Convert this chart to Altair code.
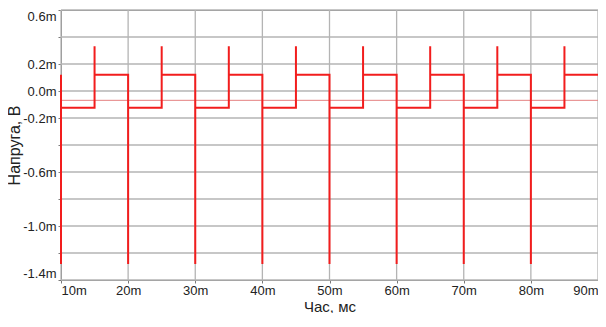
import altair as alt
import pandas as pd

# Time (ms) of each vertex of the trace, and voltage (mV) at that vertex
t_ms = [10, 10, 10,
        15, 15, 15,
        20, 20, 20,
        25, 25, 25,
        30, 30, 30,
        35, 35, 35,
        40, 40, 40,
        45, 45, 45,
        50, 50, 50,
        55, 55, 55,
        60, 60, 60,
        65, 65, 65,
        70, 70, 70,
        75, 75, 75,
        80, 80, 80,
        85, 85, 85,
        90]
v_mv = [0.121, -1.282, -0.124,
        -0.124, 0.331, 0.121,
        0.121, -1.282, -0.124,
        -0.124, 0.331, 0.121,
        0.121, -1.282, -0.124,
        -0.124, 0.331, 0.121,
        0.121, -1.282, -0.124,
        -0.124, 0.331, 0.121,
        0.121, -1.282, -0.124,
        -0.124, 0.331, 0.121,
        0.121, -1.282, -0.124,
        -0.124, 0.331, 0.121,
        0.121, -1.282, -0.124,
        -0.124, 0.331, 0.121,
        0.121, -1.282, -0.124,
        -0.124, 0.331, 0.121,
        0.121]

ref_level = [-0.069]

x_ticks = [10, 20, 30, 40, 50, 60, 70, 80, 90]
y_ticks = [-1.4, -1.2, -1.0, -0.8, -0.6, -0.4, -0.2, 0, 0.2, 0.4, 0.6]
y_label_vals = [0.6, 0.2, 0, -0.2, -0.6, -1.0, -1.4]
y_label_txt = ["0.6m", "0.2m", "0.0m", "-0.2m", "-0.6m", "-1.0m", "-1.4m"]

df = pd.DataFrame({"t": t_ms, "v": v_mv, "i": list(range(len(t_ms)))})
df_ref = pd.DataFrame({"v": ref_level})
df_xgrid = pd.DataFrame({"gx": x_ticks})
df_ygrid = pd.DataFrame({"gy": y_ticks})

y_expr = ""
for val, txt in zip(y_label_vals, y_label_txt):
    y_expr += f"datum.value == {val} ? '{txt}' : "
y_expr += "''"

x_scale = alt.Scale(domain=[10, 90], nice=False, zero=False)
y_scale = alt.Scale(domain=[-1.4, 0.6], nice=False, zero=False)

x_axis = alt.Axis(values=x_ticks, labelExpr="datum.value + 'm'", title="Час, мс",
                  grid=False, tickSize=3, labelPadding=1, labelFlush=True,
                  titleY=31, titleBaseline="alphabetic", titleFontSize=15)
y_axis = alt.Axis(values=y_ticks, labelExpr=y_expr, title="Напруга, В",
                  grid=False, tickSize=3, labelPadding=2, labelFlush=True,
                  titleX=-47, titleY=135, titleBaseline="middle")

grid_color = "#b4b4b4"
xgrid = alt.Chart(df_xgrid).mark_rule(color=grid_color, strokeWidth=1.3).encode(
    x=alt.X("gx:Q", scale=x_scale, axis=x_axis)
)
ygrid = alt.Chart(df_ygrid).mark_rule(color=grid_color, strokeWidth=1.3).encode(
    y=alt.Y("gy:Q", scale=y_scale, axis=y_axis)
)

rule = alt.Chart(df_ref).mark_rule(color="#e58080", strokeWidth=1).encode(
    y=alt.Y("v:Q", scale=y_scale, axis=y_axis)
)

line = alt.Chart(df).mark_line(color="#f21d1d", strokeWidth=2).encode(
    x=alt.X("t:Q", scale=x_scale, axis=x_axis),
    y=alt.Y("v:Q", scale=y_scale, axis=y_axis),
    order="i:Q",
)

chart = alt.layer(xgrid, ygrid, rule, line).properties(
    width=537, height=270,
    autosize=alt.AutoSizeParams(type="none"),
    padding={"left": 53, "top": 2, "right": 0, "bottom": 33},
).configure_view(
    stroke="#7a7a7a", strokeWidth=1
).configure_axis(
    labelFont="Liberation Sans", labelFontSize=13, labelColor="#222222",
    titleFont="Liberation Sans", titleFontSize=16, titleFontWeight="normal",
    titleColor="#222222",
    domainColor="#7a7a7a", tickColor="#7a7a7a",
)

chart.save("out.html", embed_options={"renderer": "svg", "actions": False})
